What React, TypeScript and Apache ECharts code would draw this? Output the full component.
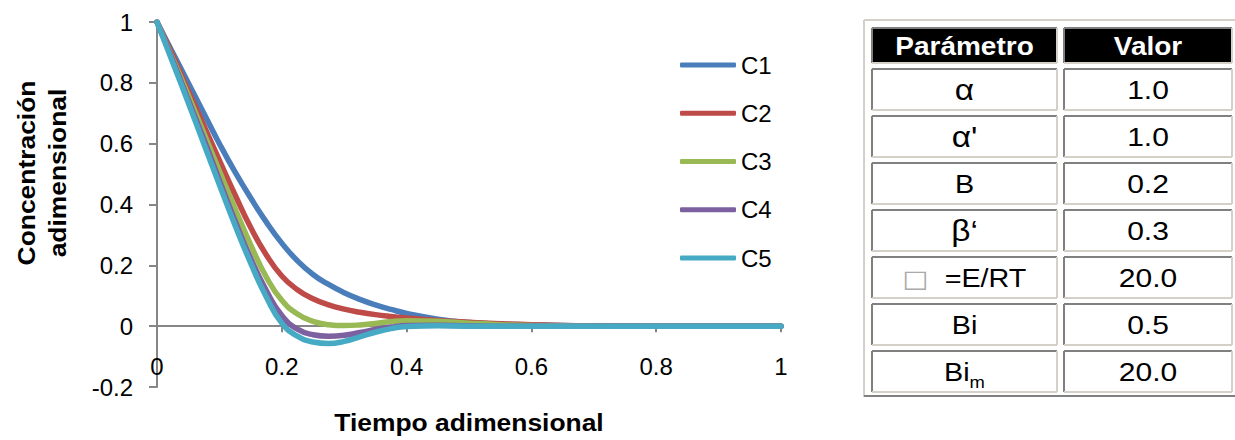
import React, { useEffect, useRef } from "react";
import * as echarts from "echarts";

// ---- data ----
const tiempo = [0, 0.025, 0.05, 0.075, 0.1, 0.125, 0.15, 0.175, 0.2, 0.225, 0.25, 0.275, 0.3, 0.325, 0.35, 0.375, 0.4, 0.45, 0.5, 0.55, 0.6, 0.65, 0.7, 0.8, 0.9, 1.0];
const c1 = [1, 0.9, 0.8, 0.7, 0.6, 0.507, 0.422, 0.343, 0.273, 0.215, 0.17, 0.137, 0.11, 0.088, 0.07, 0.055, 0.042, 0.023, 0.012, 0.007, 0.004, 0.002, 0.001, 0, 0, 0];
const c2 = [1, 0.89, 0.775, 0.66, 0.545, 0.432, 0.325, 0.235, 0.165, 0.12, 0.09, 0.07, 0.056, 0.046, 0.038, 0.032, 0.027, 0.019, 0.013, 0.008, 0.005, 0.002, 0.001, 0, 0, 0];
const c3 = [1, 0.88, 0.76, 0.635, 0.51, 0.387, 0.268, 0.162, 0.085, 0.04, 0.016, 0.005, 0.002, 0.004, 0.009, 0.015, 0.018, 0.016, 0.01, 0.005, 0.002, 0.001, 0, 0, 0, 0];
const c4 = [1, 0.875, 0.745, 0.615, 0.48, 0.347, 0.224, 0.118, 0.035, -0.01, -0.028, -0.033, -0.03, -0.021, -0.011, -0.003, 0.002, 0.003, 0.001, 0, 0, 0, 0, 0, 0, 0];
const c5 = [1, 0.868, 0.735, 0.6, 0.465, 0.332, 0.208, 0.097, 0.01, -0.033, -0.052, -0.057, -0.05, -0.035, -0.02, -0.008, -0.001, 0.001, 0, 0, 0, 0, 0, 0, 0, 0];
const seriesNames = ["C1", "C2", "C3", "C4", "C5"];
const seriesValues = [c1, c2, c3, c4, c5];
const seriesColors = ["#4A7EBB", "#BE4B48", "#98B954", "#7D60A0", "#46AAC5"];

const tableHeaders = ["Parámetro", "Valor"];
const paramNames = ["α", "α'", "B", "β‘", "□  =E/RT", "Bi", "Bim"];
const paramValues = ["1.0", "1.0", "0.2", "0.3", "20.0", "0.5", "20.0"];

const yTitle = "Concentración\nadimensional";
const xTitle = "Tiempo adimensional";

const FONT = "'Liberation Sans', Arial, Helvetica, sans-serif";

function buildTable(): any[] {
  const els: any[] = [];
  const dark = "#808080";
  const light = "#d4d0c8";
  const cols = [
    { x0: 872, x1: 1057 },
    { x0: 1064, x1: 1232 },
  ];
  // outer frame
  els.push({ type: "line", shape: { x1: 864, y1: 20, x2: 1235, y2: 20 }, style: { stroke: light, lineWidth: 2 } });
  els.push({ type: "line", shape: { x1: 864, y1: 20, x2: 864, y2: 397 }, style: { stroke: light, lineWidth: 2 } });
  els.push({ type: "line", shape: { x1: 864, y1: 396, x2: 1235, y2: 396 }, style: { stroke: dark, lineWidth: 2 } });

  const cell = (x0: number, y0: number, x1: number, y1: number, fill: string) => {
    els.push({ type: "rect", shape: { x: x0, y: y0, width: x1 - x0, height: y1 - y0 }, style: { fill } });
    els.push({ type: "line", shape: { x1: x0, y1: y0, x2: x1, y2: y0 }, style: { stroke: dark, lineWidth: 2 } });
    els.push({ type: "line", shape: { x1: x0, y1: y0, x2: x0, y2: y1 }, style: { stroke: dark, lineWidth: 2 } });
    els.push({ type: "line", shape: { x1: x0, y1: y1, x2: x1, y2: y1 }, style: { stroke: light, lineWidth: 2 } });
    els.push({ type: "line", shape: { x1: x1, y1: y0, x2: x1, y2: y1 }, style: { stroke: light, lineWidth: 2 } });
  };

  // header
  const hy0 = 28, hy1 = 63;
  tableHeaders.forEach((h, i) => {
    const c = cols[i];
    cell(c.x0, hy0, c.x1, hy1, "#000");
    els.push({
      type: "text", x: (c.x0 + c.x1) / 2, y: (hy0 + hy1) / 2 + 1, scaleX: 1.12,
      style: { text: h, fill: "#fff", font: `bold 25px ${FONT}`, align: "center", verticalAlign: "middle" },
    });
  });

  paramNames.forEach((p, i) => {
    const y0 = 69 + i * 47;
    const y1 = y0 + 41;
    const cy = (y0 + y1) / 2 + 1;
    cell(cols[0].x0, y0, cols[0].x1, y1, "#fff");
    cell(cols[1].x0, y0, cols[1].x1, y1, "#fff");
    const cx0 = (cols[0].x0 + cols[0].x1) / 2;
    const cx1 = (cols[1].x0 + cols[1].x1) / 2;
    let nameStyle: any;
    if (p === "Bim") {
      nameStyle = {
        text: "{t|Bi}{s|m}", align: "center", verticalAlign: "middle",
        rich: {
          t: { fontFamily: FONT, fontSize: 25, lineHeight: 36, fill: "#000", verticalAlign: "middle" },
          s: { fontFamily: FONT, fontSize: 16, lineHeight: 17, fill: "#000", verticalAlign: "bottom" },
        },
      };
    } else if (p.startsWith("□")) {
      nameStyle = {
        text: "{b|□}{t|" + p.slice(1) + "}", align: "center", verticalAlign: "middle",
        rich: {
          b: { fontFamily: "'DejaVu Sans', sans-serif", fontSize: 24, fill: "#aaa" },
          t: { fontFamily: FONT, fontSize: 25, fill: "#000" },
        },
      };
    } else {
      const greek = /[αβ]/.test(p);
      nameStyle = { text: p, fill: "#000", font: `${greek ? 29 : 25}px ${FONT}`, align: "center", verticalAlign: "middle" };
    }
    els.push({ type: "text", x: cx0, y: cy, scaleX: 1.15, style: nameStyle });
    els.push({
      type: "text", x: cx1, y: cy, scaleX: 1.2,
      style: { text: paramValues[i], fill: "#000", font: `25px ${FONT}`, align: "center", verticalAlign: "middle" },
    });
  });
  return els;
}

export default function App() {
  const ref = useRef<HTMLDivElement>(null);
  useEffect(() => {
    if (!ref.current) return;
    const chart = echarts.init(ref.current, undefined, { renderer: "svg" });
    const axisColor = "#868686";
    const gridTop = 22;
    const gridBottomPx = 387;
    const yMin = -0.2;
    const yMax = 1;
    const zeroPx = gridTop + ((yMax - 0) / (yMax - yMin)) * (gridBottomPx - gridTop);
    const option: any = {
      animation: false,
      backgroundColor: "#fff",
      grid: { left: 157, right: 454, top: gridTop, bottom: 440 - gridBottomPx, containLabel: false },
      xAxis: {
        type: "value", min: 0, max: 1, interval: 0.2,
        offset: -(gridBottomPx - zeroPx),
        axisLine: { show: true, onZero: false, lineStyle: { color: axisColor, width: 2 } },
        axisTick: { show: true, inside: false, length: 6, lineStyle: { color: axisColor, width: 2 } },
        axisLabel: { margin: 28, fontSize: 24, color: "#000", fontFamily: FONT, showMinLabel: true, showMaxLabel: true },
        splitLine: { show: false },
      },
      yAxis: {
        type: "value", min: yMin, max: yMax, interval: 0.2,
        axisLine: { show: true, lineStyle: { color: axisColor, width: 2 } },
        axisTick: { show: true, inside: false, length: 8, lineStyle: { color: axisColor, width: 2 } },
        axisLabel: { margin: 24, fontSize: 24, color: "#000", fontFamily: FONT },
        splitLine: { show: false },
      },
      legend: {
        data: seriesNames,
        orient: "vertical",
        left: 680, top: 53,
        padding: 0,
        itemWidth: 56, itemHeight: 5, itemGap: 24.25,
        icon: "roundRect",
        textStyle: { fontSize: 24, color: "#000", fontFamily: FONT, lineHeight: 24 },
      },
      series: seriesNames.map((name, i) => ({
        name, type: "line", smooth: 0.5, showSymbol: false, symbol: "none",
        data: tiempo.map((t, j) => [t, seriesValues[i][j]]),
        lineStyle: { width: 5.5, color: seriesColors[i], cap: "round", join: "round" },
        itemStyle: { color: seriesColors[i] },
        z: 2 + i,
      })),
      graphic: [
        {
          type: "text", x: 42, y: 173, rotation: Math.PI / 2, scaleX: 1.1,
          style: { text: yTitle, fill: "#000", font: `bold 24px ${FONT}`, lineHeight: 31, align: "center", verticalAlign: "middle" },
        },
        {
          type: "text", x: 469, y: 422, scaleX: 1.1,
          style: { text: xTitle, fill: "#000", font: `bold 24px ${FONT}`, align: "center", verticalAlign: "middle" },
        },
        ...buildTable(),
      ],
    };
    chart.setOption(option);
    return () => chart.dispose();
  }, []);
  return <div ref={ref} style={{ position: "fixed", left: 0, top: 0, width: 1235, height: 440, background: "#fff" }} />;
}
